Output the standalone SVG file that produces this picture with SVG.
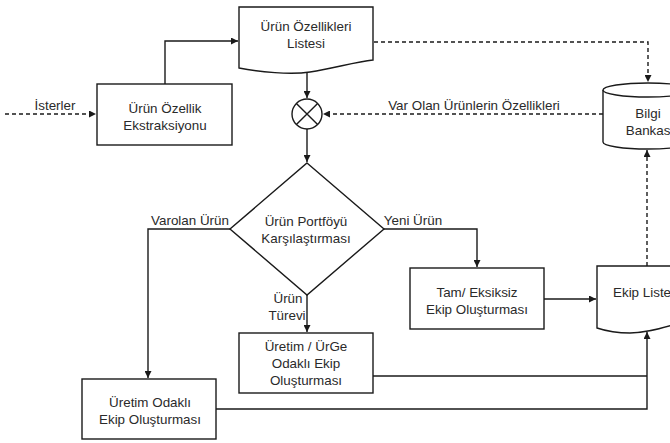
<svg xmlns="http://www.w3.org/2000/svg" width="670" height="443" viewBox="0 0 670 443">
  <defs>
    <marker id="arrow" markerUnits="userSpaceOnUse" markerWidth="8" markerHeight="7" refX="7" refY="3.5" orient="auto">
      <path d="M0,0 L7,3.5 L0,7 z" fill="#1a1a1a"/>
    </marker>
    <style>
      .shape { fill: #ffffff; stroke: #1a1a1a; stroke-width: 1.4; }
      .line { fill: none; stroke: #1a1a1a; stroke-width: 1.4; }
      .dash { stroke-dasharray: 4 3; }
      text { font-family: "Liberation Sans", Arial, sans-serif; font-size: 13.4px; fill: #2a2a2a; }
      .c { text-anchor: middle; }
    </style>
  </defs>
  <rect width="670" height="443" fill="#ffffff"/>

  <!-- connectors -->
  <g id="connectors">
    <path class="line dash" d="M5,114 H96" marker-end="url(#arrow)"/>
    <path class="line" d="M165,84 V41 H238" marker-end="url(#arrow)"/>
    <path class="line" d="M307,72 V98" marker-end="url(#arrow)"/>
    <path class="line dash" d="M374,42 H648 V82" marker-end="url(#arrow)"/>
    <path class="line dash" d="M603,114 H323" marker-end="url(#arrow)"/>
    <path class="line" d="M307,129 V162" marker-end="url(#arrow)"/>
    <path class="line" d="M230,229 H148 V378" marker-end="url(#arrow)"/>
    <path class="line" d="M383,229 H477 V267" marker-end="url(#arrow)"/>
    <path class="line" d="M307,295 V332" marker-end="url(#arrow)"/>
    <path class="line" d="M544,299 H596" marker-end="url(#arrow)"/>
    <path class="line" d="M373,376 H647"/>
    <path class="line" d="M216,409 H647 V332" marker-end="url(#arrow)"/>
    <path class="line dash" d="M647,266 V150" marker-end="url(#arrow)"/>
    <text x="55" y="110" class="c">İsterler</text>
    <text x="474" y="110" class="c">Var Olan Ürünlerin Özellikleri</text>
    <text x="190" y="225" class="c">Varolan Ürün</text>
    <text x="413" y="225" class="c">Yeni Ürün</text>
    <text x="288" y="303" class="c">Ürün</text>
    <text x="287" y="320" class="c">Türevi</text>
  </g>

  <!-- feature extraction -->
  <g id="extraction">
    <rect class="shape" x="97" y="84" width="135" height="61"/>
    <text x="165" y="113" class="c">Ürün Özellik</text>
    <text x="165" y="130" class="c">Ekstraksiyonu</text>
  </g>

  <!-- feature list document -->
  <g id="feature-list">
    <path class="shape" d="M239,7 H373 V60 C355,62 335,68 310,72 C290,75 260,72 239,68 Z"/>
    <text x="306" y="31" class="c">Ürün Özellikleri</text>
    <text x="306" y="48" class="c">Listesi</text>
  </g>

  <!-- summing junction -->
  <g id="junction">
    <circle class="shape" cx="307" cy="114" r="15"/>
    <path class="line" d="M296.4,103.4 L317.6,124.6 M317.6,103.4 L296.4,124.6"/>
  </g>

  <!-- knowledge base -->
  <g id="knowledge-base">
    <path class="shape" d="M603,90 V142 A45,7 0 0 0 693,142 V90"/>
    <ellipse class="shape" cx="648" cy="90" rx="45" ry="7"/>
    <text x="648" y="118" class="c">Bilgi</text>
    <text x="650" y="135" class="c">Bankası</text>
  </g>

  <!-- decision -->
  <g id="portfolio-decision">
    <path class="shape" d="M307,163 L384,229 L307,295 L230,229 Z"/>
    <text x="306" y="226" class="c">Ürün Portföyü</text>
    <text x="306" y="243" class="c">Karşılaştırması</text>
  </g>

  <!-- full team -->
  <g id="full-team">
    <rect class="shape" x="410" y="268" width="134" height="61"/>
    <text x="477" y="297" class="c">Tam/ Eksiksiz</text>
    <text x="477" y="314" class="c">Ekip Oluşturması</text>
  </g>

  <!-- production / R&D team -->
  <g id="rd-team">
    <rect class="shape" x="239" y="333" width="134" height="60"/>
    <text x="306" y="351" class="c">Üretim / ÜrGe</text>
    <text x="306" y="368" class="c">Odaklı Ekip</text>
    <text x="306" y="385" class="c">Oluşturması</text>
  </g>

  <!-- production team -->
  <g id="production-team">
    <rect class="shape" x="82" y="379" width="134" height="60"/>
    <text x="150" y="407" class="c">Üretim Odaklı</text>
    <text x="150" y="424" class="c">Ekip Oluşturması</text>
  </g>

  <!-- team list document -->
  <g id="team-list">
    <path class="shape" d="M597,266 H735 V318 C690,312 665,333 630,333 C612,333 603,330 597,328 Z"/>
    <text x="613" y="297">Ekip Listesi</text>
  </g>
</svg>
